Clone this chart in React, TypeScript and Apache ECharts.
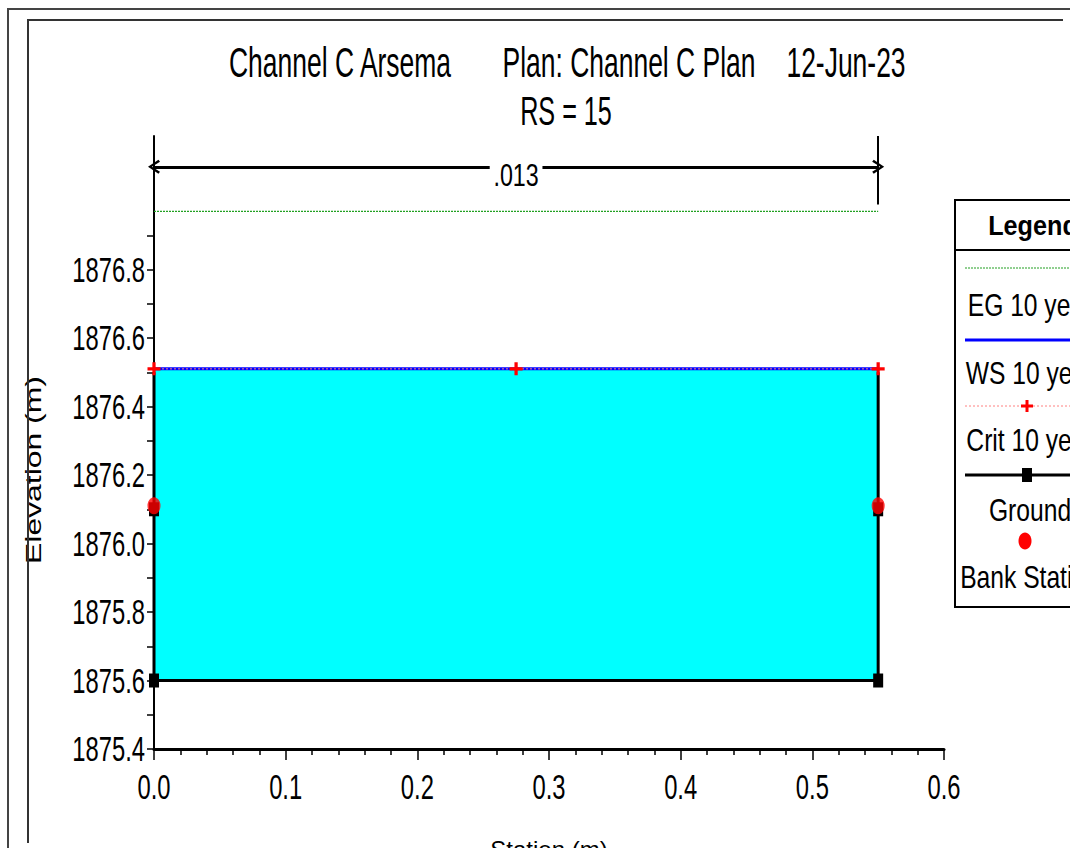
import React, { useEffect, useRef } from "react";
import * as echarts from "echarts";

// ---------- text ----------
const titleParts = ["Channel C Arsema", "Plan: Channel C Plan", "12-Jun-23"];
const subTitle = "RS = 15";
const xAxisTitle = "Station (m)";
const yAxisTitle = "Elevation (m)";
const legendTitle = "Legend";
const legendNames = ["EG 10 year", "WS 10 year", "Crit 10 year", "Ground", "Bank Station"];

// ---------- data ----------
const groundStation = [0, 0, 0, 0.55, 0.55, 0.55];
const groundElev = [1876.5, 1876.1, 1875.6, 1875.6, 1876.1, 1876.5];
const groundMarker = [false, true, true, true, true, false];
const wsStation = [0, 0.55];
const wsElev = [1876.51, 1876.51];
const egStation = [0, 0.55];
const egElev = [1876.97, 1876.97];
const critStation = [0, 0.275, 0.55];
const critElev = [1876.51, 1876.51, 1876.51];
const bankStation = [0, 0.55];
const bankElev = [1876.11, 1876.11];
const nValueLabel = ".013";
const nValueStation = [0, 0.55];
const nValueElev = 1877.1;
const nValueBarTop = 1877.19;
const nValueBarBottom = 1876.99;

// ---------- axes ----------
const xMin = 0;
const xMax = 0.6;
const xInterval = 0.1;
const xLabelValues = [0, 0.1, 0.2, 0.3, 0.4, 0.5, 0.6];
const yMin = 1875.4;
const yMax = 1877.19;
const yLabelValues = [1875.4, 1875.6, 1875.8, 1876.0, 1876.2, 1876.4, 1876.6, 1876.8];
const yTickValues = [
  1875.4, 1875.5, 1875.6, 1875.7, 1875.8, 1875.9, 1876.0, 1876.1,
  1876.2, 1876.3, 1876.4, 1876.5, 1876.6, 1876.7, 1876.8, 1876.9,
];

const SANS = "'Liberation Sans', Arial, sans-serif";
const EG_GREEN = "#22a022";
const PLUS = "path://M4.5,0H7.5V4.5H12V7.5H7.5V12H4.5V7.5H0V4.5H4.5Z";
const CHEVRON = "path://M5,0 L10,8 L8.6,9.2 L5,3 L1.4,9.2 L0,8 Z";

const zip = (xs: number[], ys: number[]) => xs.map((x, i) => [x, ys[i]]);

export default function App() {
  const ref = useRef<HTMLDivElement>(null);

  useEffect(() => {
    if (!ref.current) return;
    const chart = echarts.init(ref.current, null, { renderer: "svg" });

    const groundBottom = Math.min(...groundElev);
    const lx = 1030; // legend centre

    const option: any = {
      animation: false,
      backgroundColor: "#fff",
      grid: {
        left: 154,
        right: 126,
        top: 136,
        bottom: 99,
        containLabel: false,
        outerBoundsMode: "none",
      },
      xAxis: {
        type: "value",
        min: xMin,
        max: xMax,
        interval: xInterval,
        name: xAxisTitle,
        nameLocation: "middle",
        nameGap: 88,
        nameTextStyle: { fontFamily: SANS, fontSize: 24, color: "#000" },
        axisLine: { show: true, onZero: false, lineStyle: { color: "#000", width: 3 } },
        axisTick: { show: true, length: 11, lineStyle: { color: "#000", width: 1.5 } },
        minorTick: { show: true, splitNumber: 5, length: 6, lineStyle: { color: "#000", width: 1.5 } },
        axisLabel: { show: false },
        splitLine: { show: false },
      },
      yAxis: {
        type: "value",
        min: yMin,
        max: yMax,
        axisLine: { show: true, onZero: false, lineStyle: { color: "#000", width: 2 } },
        axisTick: {
          show: true,
          length: 7,
          customValues: yTickValues,
          lineStyle: { color: "#000", width: 1.5 },
        },
        axisLabel: { show: false },
        splitLine: { show: false },
      },
      series: [
        {
          name: legendNames[1] + " fill",
          type: "line",
          data: zip(wsStation, wsElev),
          symbol: "none",
          lineStyle: { width: 0, opacity: 0 },
          areaStyle: { color: "#00FFFF", opacity: 1, origin: groundBottom },
          z: 1,
          silent: true,
        },
        {
          name: legendNames[0],
          type: "line",
          data: zip(egStation, egElev),
          symbol: "none",
          lineStyle: { color: EG_GREEN, width: 1.2, type: [2, 1] },
          z: 3,
          markLine: {
            silent: true,
            animation: false,
            symbol: "none",
            lineStyle: { color: "#000", width: 3, type: "solid" },
            label: { show: false },
            data: [
              [
                { coord: [nValueStation[0], nValueElev], symbol: CHEVRON, symbolSize: [14, 12] },
                { coord: [nValueStation[1], nValueElev], symbol: CHEVRON, symbolSize: [14, 12] },
              ],
              [
                { coord: [nValueStation[1], nValueBarTop], lineStyle: { width: 2 } },
                { coord: [nValueStation[1], nValueBarBottom], lineStyle: { width: 2 } },
              ],
            ],
          },
        },
        {
          name: legendNames[3],
          type: "line",
          data: groundStation.map((x, i) => ({
            value: [x, groundElev[i]],
            symbol: groundMarker[i] ? "rect" : "none",
          })),
          symbol: "rect",
          symbolSize: [10, 14],
          showAllSymbol: true,
          itemStyle: { color: "#000" },
          lineStyle: { color: "#000", width: 3 },
          z: 4,
        },
        {
          name: legendNames[1],
          type: "line",
          data: zip(wsStation, wsElev),
          symbol: "none",
          lineStyle: { color: "#0000FF", width: 3 },
          z: 5,
        },
        {
          name: legendNames[2],
          type: "line",
          data: zip(critStation, critElev),
          symbol: PLUS,
          symbolSize: 13,
          showAllSymbol: true,
          itemStyle: { color: "#ff0000" },
          lineStyle: { color: "#ff8080", width: 1, type: [2, 2] },
          z: 6,
        },
        {
          name: legendNames[4],
          type: "scatter",
          data: zip(bankStation, bankElev),
          symbol: "circle",
          symbolSize: [13, 17],
          itemStyle: { color: "#ff0000" },
          z: 7,
        },
      ],
    };

    chart.setOption(option);

    const px = (x: number, y: number) =>
      chart.convertToPixel({ gridIndex: 0 }, [x, y]) as unknown as number[];

    const legendText = (text: string, y: number) => ({
      type: "text",
      x: lx,
      y,
      z: 20,
      scaleX: 0.77,
      style: {
        text,
        fill: "#000",
        font: `32px ${SANS}`,
        align: "center",
        verticalAlign: "middle",
      },
    });

    const graphics: any[] = [
      // page frames
      {
        type: "polyline",
        z: 30,
        shape: { points: [[8, 848], [8, 9], [1070, 9]] },
        style: { stroke: "#444", lineWidth: 2, fill: "none" },
      },
      {
        type: "polyline",
        z: 30,
        shape: { points: [[28, 843], [28, 20], [1063, 20]] },
        style: { stroke: "#333", lineWidth: 2, fill: "none" },
      },
      // titles
      ...titleParts.map((t, i) => ({
        type: "text",
        x: [340, 629, 846][i],
        y: 62,
        scaleX: 0.63,
        style: {
          text: t,
          fill: "#000",
          font: `42px ${SANS}`,
          align: "center",
          verticalAlign: "middle",
        },
      })),
      {
        type: "text",
        x: 566,
        y: 111,
        scaleX: 0.63,
        style: {
          text: subTitle,
          fill: "#000",
          font: `40px ${SANS}`,
          align: "center",
          verticalAlign: "middle",
        },
      },
      // y axis title
      {
        type: "text",
        x: 33,
        y: 470,
        rotation: Math.PI / 2,
        scaleX: 1.45,
        style: {
          text: yAxisTitle,
          fill: "#000",
          font: `22px ${SANS}`,
          align: "center",
          verticalAlign: "middle",
        },
      },
      // y tick labels
      ...yLabelValues.map((v) => {
        const p = px(xMin, v);
        return {
          type: "text",
          x: p[0] - 9,
          y: p[1],
          scaleX: 0.68,
          style: {
            text: v.toFixed(1),
            fill: "#000",
            font: `35px ${SANS}`,
            align: "right",
            verticalAlign: "middle",
          },
        };
      }),
      // x tick labels
      ...xLabelValues.map((v) => {
        const p = px(v, yMin);
        return {
          type: "text",
          x: p[0],
          y: p[1] + 38,
          scaleX: 0.68,
          style: {
            text: v.toFixed(1),
            fill: "#000",
            font: `35px ${SANS}`,
            align: "center",
            verticalAlign: "middle",
          },
        };
      }),
      // n value label
      (() => {
        const p = px((nValueStation[0] + nValueStation[1]) / 2, nValueElev);
        return {
          type: "text",
          x: p[0],
          y: p[1] + 8,
          z: 8,
          scaleX: 0.75,
          style: {
            text: nValueLabel,
            fill: "#000",
            font: `31px ${SANS}`,
            align: "center",
            verticalAlign: "middle",
            backgroundColor: "#fff",
            padding: [0, 5],
          },
        };
      })(),
      // legend
      {
        type: "rect",
        z: 10,
        shape: { x: 955, y: 200, width: 150, height: 407 },
        style: { fill: "#fff", stroke: "#000", lineWidth: 2 },
      },
      {
        type: "line",
        z: 11,
        shape: { x1: 955, y1: 250, x2: 1105, y2: 250 },
        style: { stroke: "#000", lineWidth: 2 },
      },
      {
        type: "text",
        x: 1033,
        y: 226,
        z: 20,
        scaleX: 0.9,
        style: {
          text: legendTitle,
          fill: "#000",
          font: `bold 28px ${SANS}`,
          align: "center",
          verticalAlign: "middle",
        },
      },
      {
        type: "line",
        z: 11,
        shape: { x1: 965, y1: 268, x2: 1100, y2: 268 },
        style: { stroke: EG_GREEN, lineWidth: 1.2, lineDash: [2, 1] },
      },
      legendText(legendNames[0], 305),
      {
        type: "line",
        z: 11,
        shape: { x1: 965, y1: 340, x2: 1100, y2: 340 },
        style: { stroke: "#0000FF", lineWidth: 3 },
      },
      legendText(legendNames[1], 373),
      {
        type: "line",
        z: 11,
        shape: { x1: 965, y1: 406, x2: 1100, y2: 406 },
        style: { stroke: "#ff8080", lineWidth: 1, lineDash: [2, 2] },
      },
      {
        type: "polygon",
        z: 12,
        x: 1027 - 6,
        y: 406 - 6,
        shape: {
          points: [[4.5, 0], [7.5, 0], [7.5, 4.5], [12, 4.5], [12, 7.5], [7.5, 7.5], [7.5, 12], [4.5, 12], [4.5, 7.5], [0, 7.5], [0, 4.5], [4.5, 4.5]],
        },
        style: { fill: "#ff0000" },
      },
      legendText(legendNames[2], 440),
      {
        type: "line",
        z: 11,
        shape: { x1: 965, y1: 475, x2: 1100, y2: 475 },
        style: { stroke: "#000", lineWidth: 3 },
      },
      {
        type: "rect",
        z: 12,
        shape: { x: 1027 - 5, y: 468, width: 10, height: 14 },
        style: { fill: "#000" },
      },
      legendText(legendNames[3], 510),
      {
        type: "ellipse",
        z: 12,
        shape: { cx: 1025, cy: 541, rx: 6.5, ry: 8.5 },
        style: { fill: "#ff0000" },
      },
      legendText(legendNames[4], 577),
    ];

    chart.setOption({ graphic: graphics });
    return () => chart.dispose();
  }, []);

  return (
    <div
      ref={ref}
      style={{ position: "fixed", left: 0, top: 0, width: 1070, height: 848, background: "#fff" }}
    />
  );
}
